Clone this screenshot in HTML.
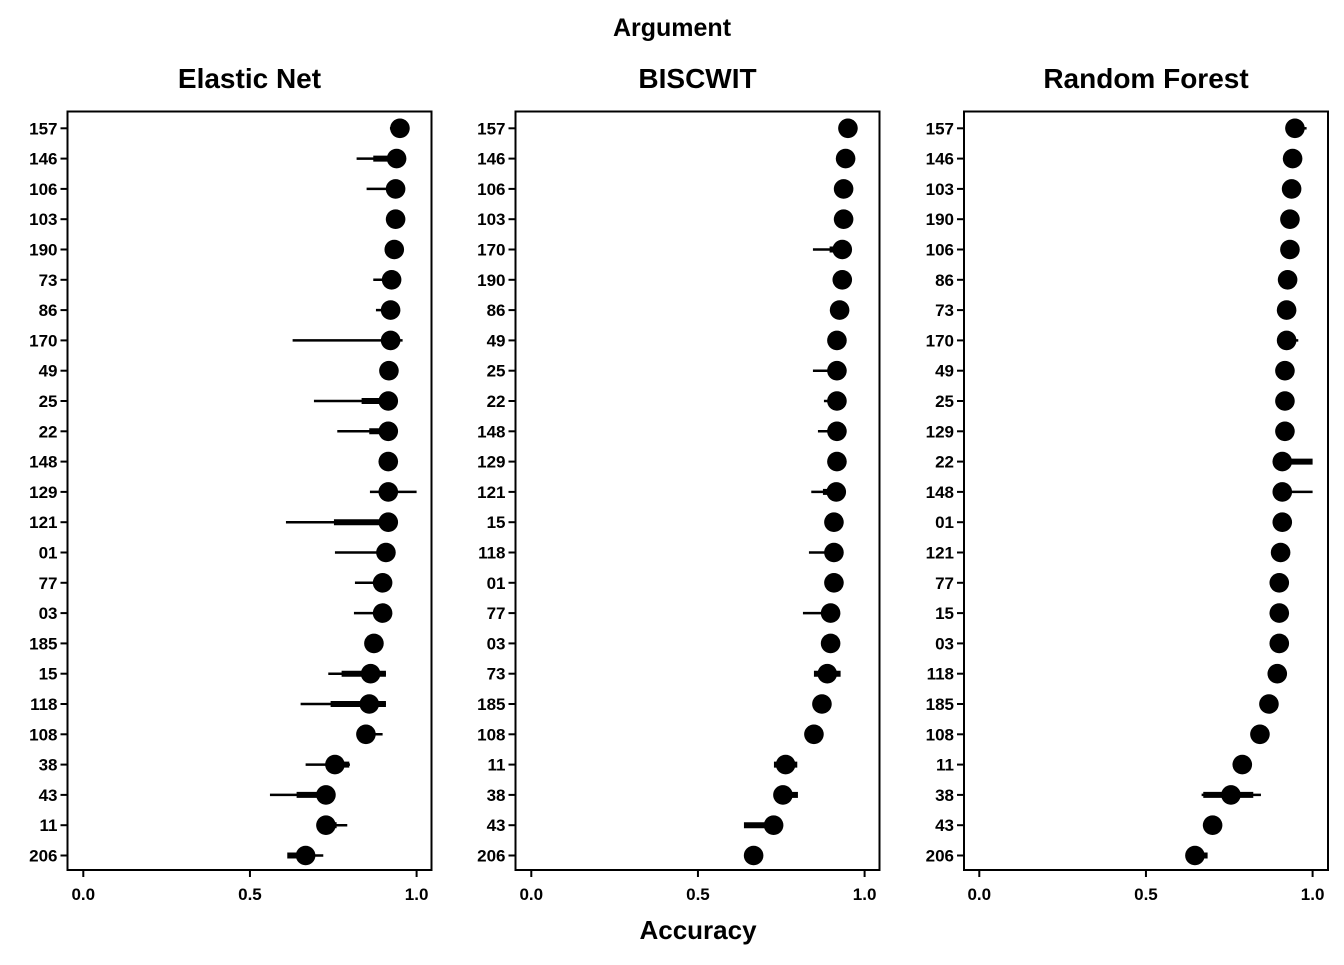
<!DOCTYPE html>
<html><head><meta charset="utf-8"><style>
body{margin:0;background:#fff;}
svg text{font-family:"Liberation Sans",Arial,sans-serif;font-weight:bold;fill:#000;}
</style></head><body>
<svg id="chart" width="1344" height="960" viewBox="0 0 1344 960" xmlns="http://www.w3.org/2000/svg">
<text x="672" y="36" font-size="25" text-anchor="middle">Argument</text>
<text x="698" y="939" font-size="26" text-anchor="middle">Accuracy</text>
</svg>
<script>
const xTicks=[0,0.5,1];
const xTickLabels=["0.0","0.5","1.0"];
const panelTitles=["Elastic Net","BISCWIT","Random Forest"];
const enCats=["157","146","106","103","190","73","86","170","49","25","22","148","129","121","01","77","03","185","15","118","108","38","43","11","206"];
const enVals=[0.95,0.94,0.937,0.937,0.933,0.925,0.922,0.922,0.917,0.915,0.915,0.915,0.915,0.915,0.908,0.898,0.898,0.872,0.862,0.858,0.848,0.755,0.728,0.728,0.667];
const enThinLo=[0.92,0.82,0.85,null,null,0.87,0.878,0.628,null,0.692,0.762,null,0.86,0.608,0.755,0.815,0.812,null,0.735,0.652,null,0.667,0.56,null,null];
const enThinHi=[0.955,null,null,null,null,null,null,0.958,null,null,null,null,1.0,null,null,null,null,null,0.908,0.908,0.898,0.8,null,0.792,0.72];
const enThickLo=[null,0.87,null,null,null,null,null,null,null,0.835,0.858,null,null,0.752,null,null,null,null,0.775,0.742,null,null,0.64,null,0.612];
const enThickHi=[null,null,null,null,null,null,null,null,null,null,null,null,null,null,null,null,null,null,0.908,0.908,null,0.798,null,0.76,0.69];
const biCats=["157","146","106","103","170","190","86","49","25","22","148","129","121","15","118","01","77","03","73","185","108","11","38","43","206"];
const biVals=[0.95,0.943,0.937,0.937,0.933,0.933,0.925,0.917,0.917,0.917,0.917,0.917,0.915,0.908,0.908,0.908,0.898,0.898,0.888,0.872,0.848,0.763,0.755,0.727,0.667];
const biThinLo=[null,null,null,null,0.845,null,null,null,0.845,0.878,0.86,null,0.84,null,0.833,null,0.815,null,null,null,null,null,null,null,null];
const biThinHi=[null,null,null,null,null,null,null,null,null,null,null,null,null,null,null,null,null,null,null,null,null,null,null,null,null];
const biThickLo=[null,null,null,null,0.895,null,null,null,null,null,null,null,0.875,null,null,null,null,null,0.848,null,null,0.728,null,0.638,null];
const biThickHi=[null,null,null,null,null,null,null,null,null,null,null,null,null,null,null,null,null,null,0.928,null,null,0.798,0.8,null,null];
const rfCats=["157","146","103","190","106","86","73","170","49","25","129","22","148","01","121","77","15","03","118","185","108","11","38","43","206"];
const rfVals=[0.947,0.94,0.937,0.932,0.932,0.925,0.922,0.922,0.917,0.917,0.917,0.909,0.909,0.909,0.904,0.9,0.9,0.9,0.894,0.869,0.842,0.789,0.755,0.7,0.647];
const rfThinLo=[null,null,null,null,null,null,null,null,null,null,null,null,null,null,null,null,null,null,null,null,null,null,0.667,null,null];
const rfThinHi=[0.982,null,null,null,null,null,null,0.957,null,null,null,null,1.0,null,null,null,null,null,null,null,null,null,0.845,null,null];
const rfThickLo=[null,null,null,null,null,null,null,null,null,null,null,null,null,null,null,null,null,null,null,null,null,null,0.672,null,null];
const rfThickHi=[null,null,null,null,null,null,null,null,null,null,null,1.0,null,null,null,null,null,null,null,null,null,null,0.822,null,0.685];

const panels=[
 {left:67.5,x0:83.3,cats:enCats,vals:enVals,tl:enThinLo,th:enThinHi,kl:enThickLo,kh:enThickHi,key:"elastic-net"},
 {left:515.5,x0:531.3,cats:biCats,vals:biVals,tl:biThinLo,th:biThinHi,kl:biThickLo,kh:biThickHi,key:"biscwit"},
 {left:964,x0:979.3,cats:rfCats,vals:rfVals,tl:rfThinLo,th:rfThinHi,kl:rfThickLo,kh:rfThickHi,key:"random-forest"}
];
const NS="http://www.w3.org/2000/svg";
const svg=document.getElementById('chart');
const W=364,TOP=111.5,BOT=870,SCALE=333.3;
function mk(tag,attrs,parent){const e=document.createElementNS(NS,tag);for(const k in attrs)e.setAttribute(k,attrs[k]);(parent||svg).appendChild(e);return e;}
panels.forEach((p,pi)=>{
 const g=mk('g',{});
 
 
 const xs=v=>p.x0+v*SCALE;
 const ys=i=>128.3+i*30.3;
 const t=mk('text',{x:p.left+W/2,y:88,'font-size':28,'text-anchor':'middle'},g);
 t.textContent=panelTitles[pi];
 
 
 const fr=mk('rect',{x:p.left,y:TOP,width:W,height:BOT-TOP,fill:'none',stroke:'#000','stroke-width':2},g);
 
 
 xTicks.forEach((v,k)=>{
  const tk=mk('line',{x1:xs(v),x2:xs(v),y1:BOT,y2:BOT+7,stroke:'#000','stroke-width':2},g);
  
  
  const tl=mk('text',{x:xs(v),y:BOT+30,'font-size':17,'text-anchor':'middle'},g);
  tl.textContent=xTickLabels[k];
  
  
 });
 p.cats.forEach((c,i)=>{
  const y=ys(i),v=p.vals[i];
  const tk=mk('line',{x1:p.left-7,x2:p.left,y1:y,y2:y,stroke:'#000','stroke-width':2},g);
  
  
  const lb=mk('text',{x:p.left-10,y:y+6,'font-size':17,'text-anchor':'end'},g);
  lb.textContent=c;
  
  
  const lo=p.tl[i]==null?v:p.tl[i],hi=p.th[i]==null?v:p.th[i];
  if(lo!==hi){const l=mk('line',{x1:xs(lo),x2:xs(hi),y1:y,y2:y,stroke:'#000','stroke-width':2.5},g);
   
   }
  const klo=p.kl[i]==null?v:p.kl[i],khi=p.kh[i]==null?v:p.kh[i];
  if(klo!==khi){const l=mk('line',{x1:xs(klo),x2:xs(khi),y1:y,y2:y,stroke:'#000','stroke-width':6},g);
   
   }
  const d=mk('circle',{cx:xs(v),cy:y,r:9.8,fill:'#000'},g);
  
  
 });
});
</script>
</body></html>
